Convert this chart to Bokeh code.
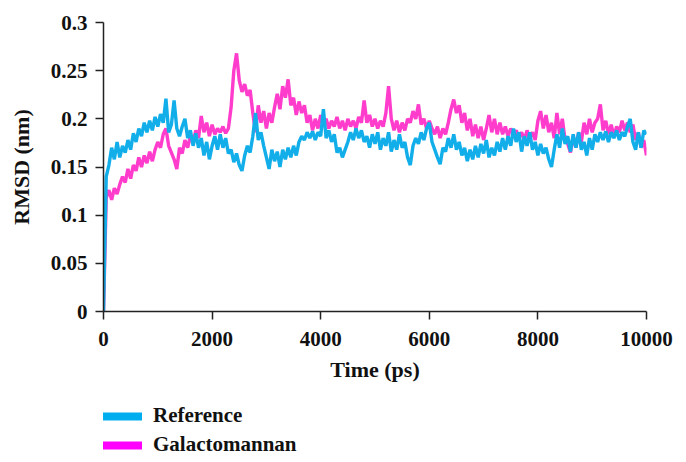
from bokeh.plotting import figure
from bokeh.layouts import column
from bokeh.models import Range1d, FixedTicker, CustomJSTickFormatter, Legend, LegendItem, ColumnDataSource
from bokeh.embed import file_html
from bokeh.resources import INLINE

# Simulation time (ps), sampled every 50 ps
time_ps = list(range(0, 10001, 50))

# RMSD (nm) of the reference system
reference = [
    0.000, 0.140, 0.152, 0.170, 0.158, 0.176, 0.160, 0.172, 0.165, 0.178,
    0.168, 0.185, 0.176, 0.190, 0.182, 0.196, 0.186, 0.198, 0.188, 0.202,
    0.192, 0.205, 0.196, 0.221, 0.186, 0.194, 0.219, 0.190, 0.182, 0.192,
    0.200, 0.180, 0.188, 0.172, 0.185, 0.170, 0.180, 0.162, 0.176, 0.158,
    0.172, 0.182, 0.168, 0.184, 0.170, 0.180, 0.164, 0.168, 0.155, 0.164,
    0.152, 0.146, 0.162, 0.172, 0.165, 0.182, 0.206, 0.178, 0.186, 0.172,
    0.160, 0.148, 0.168, 0.156, 0.166, 0.150, 0.168, 0.158, 0.170, 0.160,
    0.172, 0.162, 0.176, 0.182, 0.178, 0.186, 0.180, 0.187, 0.178, 0.186,
    0.182, 0.210, 0.180, 0.188, 0.176, 0.184, 0.165, 0.170, 0.160, 0.168,
    0.176, 0.186, 0.178, 0.190, 0.180, 0.188, 0.176, 0.182, 0.170, 0.184,
    0.174, 0.186, 0.168, 0.180, 0.172, 0.186, 0.166, 0.178, 0.168, 0.184,
    0.170, 0.176, 0.160, 0.152, 0.172, 0.180, 0.174, 0.186, 0.178, 0.190,
    0.196, 0.176, 0.168, 0.160, 0.153, 0.170, 0.166, 0.180, 0.170, 0.184,
    0.168, 0.176, 0.162, 0.170, 0.156, 0.168, 0.158, 0.172, 0.160, 0.174,
    0.164, 0.178, 0.160, 0.170, 0.162, 0.176, 0.166, 0.180, 0.168, 0.182,
    0.172, 0.190, 0.176, 0.186, 0.166, 0.182, 0.172, 0.186, 0.168, 0.176,
    0.162, 0.174, 0.164, 0.170, 0.158, 0.150, 0.168, 0.184, 0.170, 0.190,
    0.174, 0.182, 0.166, 0.184, 0.170, 0.186, 0.168, 0.176, 0.162, 0.180,
    0.168, 0.184, 0.176, 0.186, 0.178, 0.187, 0.176, 0.186, 0.180, 0.188,
    0.178, 0.186, 0.182, 0.192, 0.200, 0.176, 0.168, 0.186, 0.170, 0.188,
    0.184,
]

# RMSD (nm) of the galactomannan system
galactomannan = [
    0.000, 0.118, 0.126, 0.116, 0.128, 0.122, 0.132, 0.140, 0.134, 0.148,
    0.138, 0.152, 0.146, 0.160, 0.150, 0.162, 0.154, 0.166, 0.156, 0.168,
    0.176, 0.170, 0.184, 0.190, 0.172, 0.165, 0.158, 0.148, 0.170, 0.164,
    0.178, 0.170, 0.182, 0.176, 0.188, 0.180, 0.203, 0.186, 0.196, 0.182,
    0.194, 0.184, 0.190, 0.186, 0.192, 0.185, 0.190, 0.212, 0.250, 0.268,
    0.240, 0.228, 0.236, 0.224, 0.230, 0.206, 0.186, 0.214, 0.196, 0.208,
    0.190, 0.206, 0.196, 0.212, 0.226, 0.210, 0.234, 0.222, 0.241, 0.214,
    0.222, 0.204, 0.218, 0.206, 0.214, 0.196, 0.204, 0.188, 0.200, 0.190,
    0.204, 0.192, 0.200, 0.190, 0.198, 0.192, 0.202, 0.190, 0.198, 0.188,
    0.200, 0.192, 0.198, 0.190, 0.202, 0.196, 0.219, 0.196, 0.204, 0.192,
    0.200, 0.190, 0.198, 0.192, 0.206, 0.234, 0.200, 0.188, 0.198, 0.186,
    0.196, 0.188, 0.200, 0.196, 0.208, 0.200, 0.215, 0.194, 0.200, 0.190,
    0.198, 0.190, 0.184, 0.192, 0.180, 0.190, 0.184, 0.196, 0.210, 0.220,
    0.206, 0.214, 0.196, 0.206, 0.188, 0.200, 0.182, 0.194, 0.180, 0.192,
    0.178, 0.190, 0.204, 0.186, 0.200, 0.184, 0.196, 0.184, 0.192, 0.182,
    0.190, 0.184, 0.188, 0.180, 0.186, 0.178, 0.188, 0.180, 0.186, 0.178,
    0.198, 0.208, 0.190, 0.204, 0.186, 0.196, 0.180, 0.206, 0.184, 0.200,
    0.178, 0.174, 0.165, 0.182, 0.170, 0.186, 0.176, 0.196, 0.184, 0.200,
    0.186, 0.196, 0.200, 0.215, 0.188, 0.198, 0.184, 0.194, 0.182, 0.192,
    0.186, 0.198, 0.188, 0.196, 0.186, 0.194, 0.178, 0.186, 0.170, 0.178,
    0.162,
]

x_ticks = [0, 2000, 4000, 6000, 8000, 10000]
y_ticks = [0, 0.05, 0.1, 0.15, 0.2, 0.25, 0.3]
series_names = ["Reference", "Galactomannan"]

FONT = "Liberation Serif"
BLUE = "#12aeea"
PINK = "#ff3ccb"

p = figure(width=686, height=392, output_backend="svg", toolbar_location=None,
           x_range=Range1d(0, 10000), y_range=Range1d(0, 0.3),
           min_border_left=103, min_border_right=40, min_border_top=22,
           min_border_bottom=81)
p.outline_line_color = None
p.grid.visible = False
p.background_fill_color = "white"

p.line(time_ps, galactomannan, line_color=PINK, line_width=3.4)
p.line(time_ps, reference, line_color=BLUE, line_width=3.4)

for ax in (p.xaxis[0], p.yaxis[0]):
    ax.axis_line_color = "#222222"
    ax.axis_line_width = 1.5
    ax.major_tick_line_color = "#222222"
    ax.major_tick_line_width = 1.5
    ax.major_tick_out = 8
    ax.major_tick_in = 0
    ax.minor_tick_line_color = None
    ax.major_label_text_font = FONT
    ax.major_label_text_font_style = "bold"
    ax.major_label_text_font_size = "21px"
    ax.major_label_text_color = "#111111"
    ax.axis_label_text_font = FONT
    ax.axis_label_text_font_style = "bold"
    ax.axis_label_text_font_size = "22px"
    ax.axis_label_text_color = "#111111"

p.xaxis.ticker = FixedTicker(ticks=x_ticks)
p.yaxis.ticker = FixedTicker(ticks=y_ticks)
p.yaxis.formatter = CustomJSTickFormatter(code="return String(Math.round(tick*100)/100)")
p.xaxis.axis_label = "Time (ps)"
p.yaxis.axis_label = "RMSD (nm)"
p.xaxis.major_label_standoff = 12
p.yaxis.major_label_standoff = 8
p.xaxis.axis_label_standoff = 8
p.yaxis.axis_label_standoff = 14

# separate strip below the chart that holds the legend (frame aligned with chart)
lg = figure(width=686, height=70, output_backend="svg", toolbar_location=None,
            x_axis_location=None, y_axis_location=None,
            x_range=Range1d(0, 1), y_range=Range1d(0, 1),
            min_border_left=0, min_border_right=0, min_border_top=0,
            min_border_bottom=0)
lg.outline_line_color = None
lg.grid.visible = False
lone_point = ColumnDataSource(data=dict(x=[0], y=[0]))
sw_blue = lg.line(x="x", y="y", source=lone_point, line_color="#00aeef",
                  line_width=8, line_cap="butt")
sw_pink = lg.line(x="x", y="y", source=lone_point, line_color="#ff00ff",
                  line_width=8, line_cap="butt")

legend = Legend(items=[LegendItem(label=series_names[0], renderers=[sw_blue]),
                       LegendItem(label=series_names[1], renderers=[sw_pink])],
                location=(-1, 5), orientation="vertical",
                glyph_width=40, glyph_height=24, label_standoff=11,
                label_height=24, spacing=4, padding=0, margin=0,
                border_line_color=None, background_fill_alpha=0,
                label_text_font=FONT, label_text_font_style="bold",
                label_text_font_size="21px", label_text_color="#111111")
lg.add_layout(legend)

open("out.html", "w").write(file_html(column(p, lg, spacing=0), INLINE))
